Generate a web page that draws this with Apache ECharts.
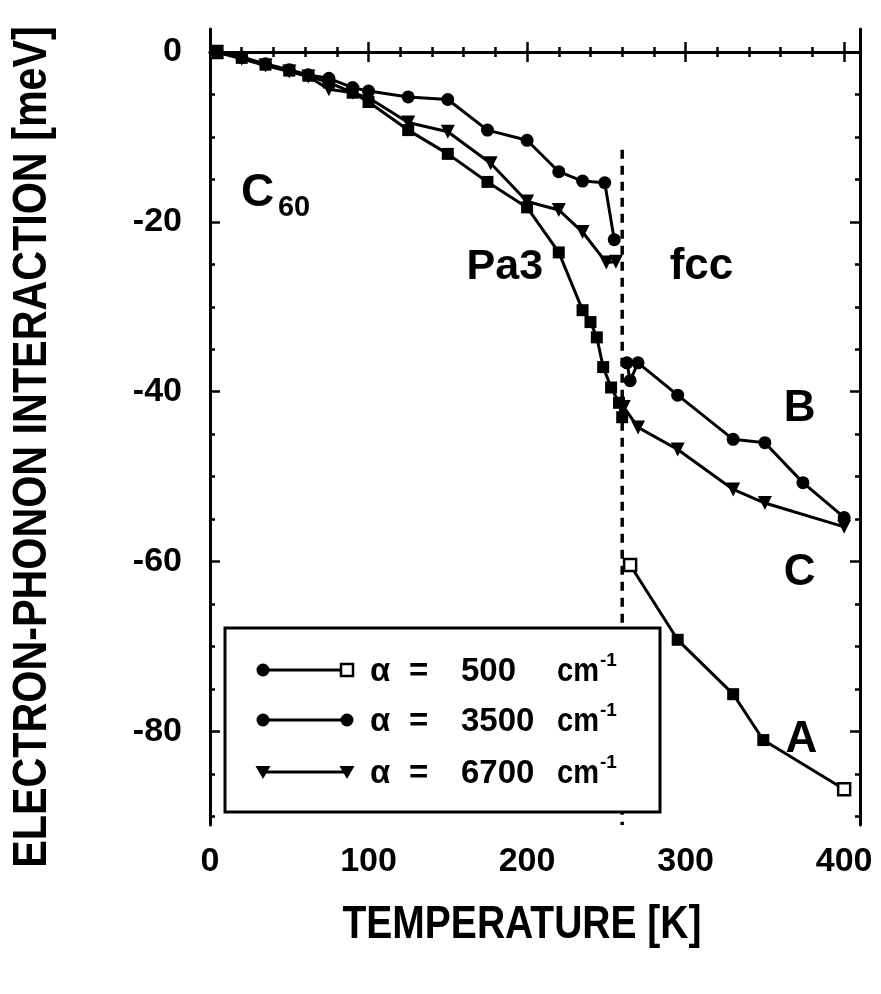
<!DOCTYPE html>
<html><head><meta charset="utf-8">
<script src="https://cdn.jsdelivr.net/npm/echarts@6/dist/echarts.min.js"></script>
<style>html,body{margin:0;padding:0;background:#fff;}#c{width:881px;height:994px;}</style>
</head><body><div id="c"></div>
<script>
// ---- data (temperature K, energy meV) ----
// alpha = 500 cm-1 : Pa3 phase (below 260 K) and fcc phase (curve A)
const tA1 = [4, 20, 35, 50, 62, 75, 90, 100, 125, 150, 175, 200, 220, 235, 240, 244, 248, 253, 258, 260];
const vA1 = [0, -0.7, -1.5, -2.2, -2.8, -3.6, -4.8, -5.9, -9.2, -12.0, -15.3, -18.3, -23.6, -30.4, -31.8, -33.6, -37.1, -39.5, -41.3, -43.0];
const tA2 = [265, 295, 330, 349, 400];
const vA2 = [-60.4, -69.2, -75.6, -81.0, -86.8];
// alpha = 3500 cm-1 : Pa3 and fcc (curve B)
const tB1 = [4, 20, 35, 50, 62, 75, 90, 100, 125, 150, 175, 200, 220, 235, 249, 255];
const vB1 = [0, -0.6, -1.4, -2.1, -2.7, -3.1, -4.2, -4.6, -5.3, -5.6, -9.2, -10.4, -14.1, -15.2, -15.4, -22.1];
const tB2 = [263, 265, 270, 295, 330, 350, 374, 400];
const vB2 = [-36.6, -38.7, -36.6, -40.4, -45.6, -46.0, -50.7, -54.8];
// alpha = 6700 cm-1 : Pa3 and fcc (curve C)
const tC1 = [4, 20, 35, 50, 62, 75, 90, 100, 125, 150, 177, 200, 220, 235, 250, 256];
const vC1 = [0, -0.8, -1.6, -2.3, -2.9, -4.4, -4.8, -5.4, -8.3, -9.4, -13.1, -17.6, -18.6, -21.2, -24.8, -24.7];
const tC2 = [261, 270, 295, 330, 350, 400];
const vC2 = [-41.8, -44.2, -46.8, -51.5, -53.1, -55.9];
// hollow-marker points of the 500 cm-1 curve
const hollowA1 = [0];
const hollowA2 = [0, 4];
// phase transition
const transitionT = 260;
const transitionSpan = [-11.5, -91];
// axes
const xMin = 0, xMax = 410, xStep = 100;
const yMin = -91, yMax = 2.7;
const yMajor = [0, -20, -40, -60, -80];
const yMinor = [-5, -10, -15, -25, -30, -35, -45, -50, -55, -65, -70, -75, -85, -90];
// texts
const xTitle = 'TEMPERATURE [K]';
const yTitle = 'ELECTRON-PHONON INTERACTION [meV]';
const legendNums = ['500', '3500', '6700'];
const annotations = [
  {name: 'Pa3', value: [186, -25.3], size: 43},
  {name: 'fcc', value: [310, -25.3], size: 44},
  {name: 'B', value: [372, -42.0], size: 44},
  {name: 'C', value: [372, -61.3], size: 44},
  {name: 'A', value: [373, -81.0], size: 44},
  {name: 'C', value: [30, -16.6], size: 46},
  {name: '60', value: [53, -18.4], size: 29}
];

const SANS = "'Liberation Sans', Arial, sans-serif";

function pts(t, v, hollow) {
  return t.map((x, i) => {
    const d = {value: [x, v[i]]};
    if (hollow && hollow.indexOf(i) >= 0) d.itemStyle = {color: '#fff', borderColor: '#000', borderWidth: 2.5};
    return d;
  });
}
function lineSeries(name, data, symbol, size, rot) {
  return {
    name, type: 'line', data, symbol, symbolSize: size, symbolRotate: rot || 0,
    lineStyle: {color: '#000', width: 3}, itemStyle: {color: '#000'},
    showAllSymbol: true, animation: false, z: 3, xAxisIndex: 0, yAxisIndex: 0
  };
}

const chart = echarts.init(document.getElementById('c'), null, {renderer: 'canvas'});

const axisLine = {show: true, lineStyle: {color: '#000', width: 3}};
const xBase = {
  type: 'value', min: xMin, max: xMax, interval: xStep,
  axisLine, splitLine: {show: false},
  axisTick: {show: true, inside: true, length: 10, lineStyle: {color: '#000', width: 2.5}},
  minorTick: {show: true, splitNumber: 5, length: 5, lineStyle: {color: '#000', width: 2.5}},
};
const yBase = {
  type: 'value', min: yMin, max: yMax, axisLine, splitLine: {show: false}
};

const legendRows = [
  {y: 670, left: 'circle', right: 'hollowRect'},
  {y: 720, left: 'circle', right: 'circle'},
  {y: 772, left: 'tri', right: 'tri'}
];
function marker(kind, x, y) {
  if (kind === 'circle') return {type: 'circle', shape: {cx: x, cy: y, r: 6.5}, style: {fill: '#000'}, z: 101};
  if (kind === 'hollowRect') return {type: 'rect', shape: {x: x - 6, y: y - 6, width: 12, height: 12}, style: {fill: '#fff', stroke: '#000', lineWidth: 2.5}, z: 101};
  return {type: 'polygon', shape: {points: [[x - 7.5, y - 6], [x + 7.5, y - 6], [x, y + 7]]}, style: {fill: '#000'}, z: 101};
}
const graphics = [
  {type: 'rect', shape: {x: 225, y: 628, width: 435, height: 184}, style: {fill: '#fff', stroke: '#000', lineWidth: 3}, z: 100},
  {type: 'text', x: 522, y: 925, scaleX: 0.83, style: {text: xTitle, font: 'bold 47px ' + SANS, fill: '#000', textAlign: 'center', textVerticalAlign: 'middle'}},
  {type: 'text', x: 33, y: 447, rotation: Math.PI / 2, scaleX: 0.86, style: {text: yTitle, font: 'bold 48px ' + SANS, fill: '#000', textAlign: 'center', textVerticalAlign: 'middle'}}
];
legendRows.forEach((r, i) => {
  graphics.push({type: 'line', shape: {x1: 263, y1: r.y, x2: 347, y2: r.y}, style: {stroke: '#000', lineWidth: 3}, z: 101});
  graphics.push(marker(r.left, 263, r.y));
  graphics.push(marker(r.right, 347, r.y));
  const f = 'bold 33px ' + SANS;
  graphics.push({type: 'text', x: 370, y: r.y + 2, style: {text: 'α', font: f, fill: '#000', textVerticalAlign: 'middle'}, z: 101});
  graphics.push({type: 'text', x: 409, y: r.y + 2, style: {text: '=', font: f, fill: '#000', textVerticalAlign: 'middle'}, z: 101});
  graphics.push({type: 'text', x: 461, y: r.y + 2, style: {text: legendNums[i], font: f, fill: '#000', textVerticalAlign: 'middle'}, z: 101});
  graphics.push({type: 'text', x: 557, y: r.y + 2, scaleX: 0.88, style: {text: 'cm', font: f, fill: '#000', textVerticalAlign: 'middle'}, z: 101});
  graphics.push({type: 'text', x: 600, y: r.y - 9, style: {text: '-1', font: 'bold 19px ' + SANS, fill: '#000', textVerticalAlign: 'middle'}, z: 101});
});

const option = {
  backgroundColor: '#fff',
  animation: false,
  grid: {left: 210, top: 29, right: 21, bottom: 169, containLabel: false},
  xAxis: [
    Object.assign({}, xBase, {position: 'bottom',
      axisLabel: {show: true, margin: 20, color: '#000', fontSize: 34, fontWeight: 'bold', fontFamily: SANS,
        formatter: v => (v % 100 === 0 && v <= 400) ? String(v) : ''}}),
    Object.assign({}, xBase, {position: 'top', axisLabel: {show: false}})
  ],
  yAxis: [
    Object.assign({}, yBase, {position: 'left',
      axisLabel: {show: true, customValues: yMajor, margin: 28, color: '#000', fontSize: 34, fontWeight: 'bold', fontFamily: SANS},
      axisTick: {show: true, inside: true, length: 10, customValues: yMajor, lineStyle: {color: '#000', width: 2.5}}}),
    Object.assign({}, yBase, {position: 'left', axisLine: {show: false}, axisLabel: {show: false},
      axisTick: {show: true, inside: true, length: 5, customValues: yMinor, lineStyle: {color: '#000', width: 2.5}}}),
    Object.assign({}, yBase, {position: 'right', axisLabel: {show: false},
      axisTick: {show: true, inside: true, length: 10, customValues: yMajor, lineStyle: {color: '#000', width: 2.5}}}),
    Object.assign({}, yBase, {position: 'right', axisLine: {show: false}, axisLabel: {show: false},
      axisTick: {show: true, inside: true, length: 5, customValues: yMinor, lineStyle: {color: '#000', width: 2.5}}})
  ],
  graphic: graphics,
  series: [
    {
      name: 'transition', type: 'line', xAxisIndex: 0, yAxisIndex: 0,
      data: transitionSpan.map(v => [transitionT, v]), symbol: 'none',
      lineStyle: {color: '#000', width: 3.5, type: [9, 7]}, z: 2
    },
    lineSeries('α = 500 cm-1', pts(tA1, vA1, hollowA1), 'rect', 12),
    lineSeries('α = 500 cm-1 (fcc)', pts(tA2, vA2, hollowA2), 'rect', 12),
    lineSeries('α = 3500 cm-1', pts(tB1, vB1), 'circle', 13),
    lineSeries('α = 3500 cm-1 (fcc)', pts(tB2, vB2), 'circle', 13),
    lineSeries('α = 6700 cm-1', pts(tC1, vC1), 'triangle', 14, 180),
    lineSeries('α = 6700 cm-1 (fcc)', pts(tC2, vC2), 'triangle', 14, 180),
    {
      name: 'labels', type: 'scatter', xAxisIndex: 0, yAxisIndex: 0, symbolSize: 0, z: 5,
      itemStyle: {opacity: 1, color: '#000'},
      data: annotations.map(a => ({name: a.name, value: a.value,
        label: {show: true, position: 'inside', formatter: '{b}', color: '#000', opacity: 1, fontSize: a.size, fontWeight: 'bold', fontFamily: SANS}})),
      silent: true
    }
  ]
};
chart.setOption(option);
</script>
</body></html>
